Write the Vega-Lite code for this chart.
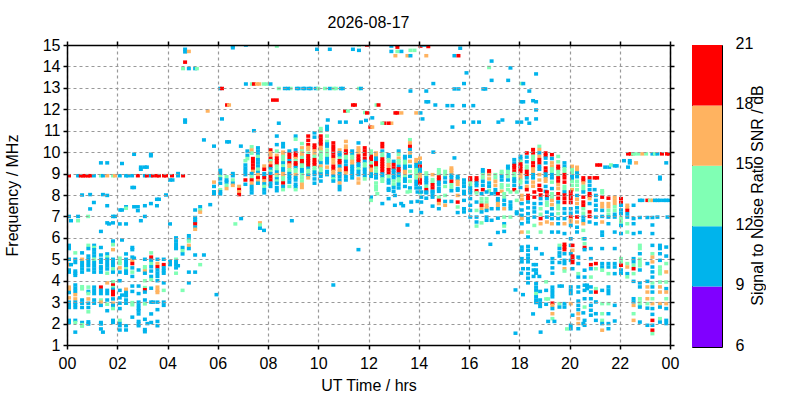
{
"$schema":"https://vega.github.io/schema/vega-lite/v6.json",
"background":"white",
"padding":{"left":4,"top":15,"right":0,"bottom":0},
"config":{"font":"Liberation Sans","view":{"stroke":null},"axis":{"labelFont":"Liberation Sans","titleFont":"Liberation Sans","labelFontSize":16,"titleFontSize":16,"labelColor":"black","titleColor":"black","titleFontWeight":"normal","tickColor":"black","domainColor":"black"},"title":{"font":"Liberation Sans","fontSize":16,"fontWeight":"normal","color":"black"}},
"datasets":{
"frame":[{"t":0,"f":1}],
"bar":[{"lo":6,"hi":9},{"lo":9,"hi":12},{"lo":12,"hi":15},{"lo":15,"hi":18},{"lo":18,"hi":21}],
"obs":[
{"t":0.08,"f":8.9,"s":19},{"t":0.44,"f":8.9,"s":10},{"t":0.55,"f":8.9,"s":19},{"t":0.64,"f":8.9,"s":19},{"t":0.73,"f":8.9,"s":19},{"t":0.84,"f":8.9,"s":19},{"t":0.92,"f":8.9,"s":19},{"t":1.07,"f":8.9,"s":10},{"t":1.35,"f":8.9,"s":13},{"t":1.43,"f":8.9,"s":10},{"t":1.6,"f":8.9,"s":16},{"t":1.83,"f":8.9,"s":13},{"t":1.91,"f":8.9,"s":16},{"t":2.1,"f":8.9,"s":10},{"t":2.35,"f":8.9,"s":10},{"t":2.43,"f":8.9,"s":10},{"t":2.59,"f":8.9,"s":10},{"t":2.82,"f":8.9,"s":19},{"t":3.1,"f":8.9,"s":10},{"t":3.18,"f":8.9,"s":19},{"t":3.34,"f":8.9,"s":10},{"t":3.42,"f":8.9,"s":19},{"t":3.58,"f":8.9,"s":19},{"t":3.66,"f":8.9,"s":19},{"t":3.86,"f":8.9,"s":19},{"t":3.94,"f":8.9,"s":19},{"t":4.18,"f":8.9,"s":19},{"t":4.42,"f":8.9,"s":10},{"t":4.42,"f":9.0,"s":10},{"t":4.62,"f":8.9,"s":19},{"t":4.1,"f":8.7,"s":10},{"t":4.2,"f":8.7,"s":10},
{"t":1.35,"f":9.5,"s":10},{"t":1.6,"f":9.5,"s":10},{"t":2.19,"f":9.47,"s":10},{"t":2.67,"f":9.9,"s":10},{"t":3.34,"f":9.9,"s":10},{"t":3.34,"f":9.83,"s":10},{"t":2.94,"f":9.3,"s":10},{"t":2.94,"f":9.2,"s":10},{"t":3.1,"f":9.3,"s":10},{"t":3.18,"f":9.3,"s":10},{"t":2.6,"f":8.35,"s":10},{"t":2.67,"f":8.35,"s":10},
{"t":0.6,"f":8.0,"s":10},{"t":0.92,"f":8.02,"s":10},{"t":1.43,"f":8.02,"s":10},{"t":1.6,"f":7.98,"s":10},{"t":1.07,"f":7.65,"s":10},{"t":0.92,"f":7.35,"s":10},{"t":1.6,"f":7.5,"s":10},{"t":2.12,"f":7.3,"s":10},{"t":2.19,"f":7.3,"s":10},{"t":2.35,"f":7.45,"s":10},{"t":2.35,"f":7.38,"s":13},{"t":2.67,"f":7.45,"s":10},{"t":2.82,"f":7.45,"s":10},{"t":2.82,"f":7.27,"s":10},{"t":3.1,"f":7.5,"s":10},{"t":3.34,"f":7.6,"s":10},{"t":3.58,"f":7.5,"s":10},{"t":3.58,"f":7.8,"s":10},{"t":3.66,"f":7.8,"s":10},{"t":3.94,"f":8.0,"s":10},
{"t":0.08,"f":7.0,"s":10},{"t":0.44,"f":7.0,"s":10},{"t":0.84,"f":7.0,"s":13},{"t":1.83,"f":7.0,"s":10},{"t":1.91,"f":7.0,"s":10},{"t":3.1,"f":7.0,"s":10},{"t":2.94,"f":6.8,"s":10},{"t":0.16,"f":6.8,"s":10},{"t":0.44,"f":6.8,"s":13},{"t":1.6,"f":6.7,"s":10},{"t":1.67,"f":6.65,"s":10},{"t":1.83,"f":6.7,"s":10},{"t":2.1,"f":6.65,"s":10},{"t":2.35,"f":6.65,"s":10},{"t":1.35,"f":6.3,"s":10},{"t":2.19,"f":5.9,"s":10},
{"t":0.08,"f":5.65,"s":10},{"t":0.08,"f":5.5,"s":10},{"t":0.08,"f":5.0,"s":10},{"t":0.08,"f":4.75,"s":16},{"t":0.16,"f":4.75,"s":10},{"t":0.08,"f":4.5,"s":10},{"t":0.08,"f":4.4,"s":10},{"t":0.08,"f":3.7,"s":16},{"t":0.08,"f":3.6,"s":16},{"t":0.08,"f":3.45,"s":10},{"t":0.08,"f":3.2,"s":16},{"t":0.08,"f":3.0,"s":10},{"t":0.08,"f":2.9,"s":10},{"t":0.08,"f":2.75,"s":10},{"t":0.08,"f":2.15,"s":10},{"t":0.08,"f":2.05,"s":10},
{"t":0.33,"f":5.3,"s":13},{"t":0.33,"f":5.0,"s":10},{"t":0.33,"f":4.85,"s":10},{"t":0.33,"f":4.45,"s":10},{"t":0.33,"f":4.35,"s":10},{"t":0.33,"f":4.25,"s":10},{"t":0.33,"f":3.8,"s":10},{"t":0.33,"f":3.65,"s":10},{"t":0.33,"f":3.5,"s":10},{"t":0.33,"f":3.35,"s":16},{"t":0.33,"f":3.15,"s":16},{"t":0.33,"f":3.0,"s":10},{"t":0.33,"f":2.88,"s":10},{"t":0.33,"f":2.75,"s":10},{"t":0.33,"f":2.15,"s":10},{"t":0.33,"f":2.05,"s":13},{"t":0.33,"f":1.6,"s":10},
{"t":0.6,"f":5.3,"s":10},{"t":0.6,"f":5.0,"s":16},{"t":0.6,"f":4.85,"s":10},{"t":0.6,"f":4.7,"s":10},{"t":0.6,"f":4.55,"s":10},{"t":0.6,"f":4.4,"s":10},{"t":0.6,"f":3.72,"s":13},{"t":0.6,"f":3.62,"s":13},{"t":0.6,"f":3.1,"s":10},{"t":0.6,"f":2.95,"s":10},{"t":0.6,"f":2.75,"s":10},{"t":0.6,"f":2.05,"s":10},{"t":0.6,"f":1.95,"s":13},{"t":0.6,"f":1.88,"s":13},
{"t":0.85,"f":5.65,"s":13},{"t":0.85,"f":5.5,"s":10},{"t":0.85,"f":5.15,"s":10},{"t":0.85,"f":5.0,"s":10},{"t":0.85,"f":4.85,"s":10},{"t":0.85,"f":4.7,"s":10},{"t":0.85,"f":4.5,"s":10},{"t":0.85,"f":3.7,"s":13},{"t":0.85,"f":3.5,"s":10},{"t":0.85,"f":3.4,"s":13},{"t":0.85,"f":3.15,"s":16},{"t":0.85,"f":2.95,"s":10},{"t":0.85,"f":2.75,"s":10},{"t":0.85,"f":2.55,"s":13},{"t":0.85,"f":2.08,"s":10},{"t":0.85,"f":1.98,"s":10},
{"t":1.08,"f":5.65,"s":10},{"t":1.08,"f":5.55,"s":13},{"t":1.08,"f":5.45,"s":10},{"t":1.08,"f":5.3,"s":10},{"t":1.08,"f":5.15,"s":10},{"t":1.08,"f":5.0,"s":13},{"t":1.08,"f":4.85,"s":10},{"t":1.08,"f":4.7,"s":10},{"t":1.08,"f":4.55,"s":10},{"t":1.08,"f":4.4,"s":10},{"t":1.08,"f":3.7,"s":10},{"t":1.08,"f":3.55,"s":10},{"t":1.08,"f":3.4,"s":10},{"t":1.08,"f":3.1,"s":10},{"t":1.08,"f":2.95,"s":10},
{"t":1.35,"f":5.55,"s":10},{"t":1.35,"f":5.2,"s":10},{"t":1.35,"f":5.0,"s":10},{"t":1.35,"f":4.85,"s":10},{"t":1.35,"f":4.65,"s":10},{"t":1.35,"f":4.55,"s":10},{"t":1.35,"f":4.4,"s":10},{"t":1.35,"f":3.7,"s":19},{"t":1.35,"f":3.55,"s":10},{"t":1.35,"f":3.4,"s":10},{"t":1.35,"f":3.1,"s":13},{"t":1.35,"f":3.0,"s":16},{"t":1.35,"f":2.85,"s":10},{"t":1.35,"f":2.05,"s":10},{"t":1.35,"f":1.98,"s":10},{"t":1.35,"f":1.75,"s":10},{"t":1.43,"f":1.6,"s":10},
{"t":1.6,"f":5.25,"s":10},{"t":1.6,"f":5.1,"s":13},{"t":1.6,"f":5.0,"s":10},{"t":1.6,"f":4.85,"s":10},{"t":1.6,"f":4.7,"s":10},{"t":1.6,"f":4.55,"s":10},{"t":1.6,"f":4.35,"s":13},{"t":1.6,"f":3.9,"s":16},{"t":1.6,"f":3.55,"s":10},{"t":1.6,"f":3.4,"s":10},{"t":1.6,"f":3.1,"s":10},{"t":1.6,"f":2.9,"s":13},{"t":1.6,"f":2.6,"s":10},
{"t":1.83,"f":5.85,"s":10},{"t":1.83,"f":5.68,"s":13},{"t":1.83,"f":5.45,"s":16},{"t":1.83,"f":5.0,"s":10},{"t":1.83,"f":4.85,"s":10},{"t":1.83,"f":4.7,"s":10},{"t":1.83,"f":4.55,"s":13},{"t":1.83,"f":4.4,"s":10},{"t":1.83,"f":3.95,"s":13},{"t":1.83,"f":3.8,"s":19},{"t":1.83,"f":3.68,"s":13},{"t":1.83,"f":3.6,"s":10},{"t":1.83,"f":3.5,"s":19},{"t":1.83,"f":3.35,"s":19},{"t":1.83,"f":3.15,"s":10},{"t":1.83,"f":2.95,"s":16},{"t":1.83,"f":2.85,"s":10},{"t":1.83,"f":2.7,"s":13},{"t":1.83,"f":2.15,"s":10},{"t":1.83,"f":2.05,"s":10},
{"t":2.1,"f":5.05,"s":13},{"t":2.1,"f":4.9,"s":13},{"t":2.1,"f":4.8,"s":13},{"t":2.1,"f":4.6,"s":16},{"t":2.1,"f":4.4,"s":10},{"t":2.1,"f":4.0,"s":10},{"t":2.1,"f":3.55,"s":10},{"t":2.1,"f":3.2,"s":10},{"t":2.19,"f":3.33,"s":10},{"t":2.1,"f":2.95,"s":10},{"t":2.1,"f":2.7,"s":10},{"t":2.1,"f":2.15,"s":13},{"t":2.1,"f":2.0,"s":10},{"t":2.1,"f":1.9,"s":10},{"t":2.1,"f":1.7,"s":10},
{"t":2.35,"f":5.25,"s":10},{"t":2.35,"f":5.0,"s":10},{"t":2.35,"f":4.85,"s":10},{"t":2.35,"f":4.7,"s":10},{"t":2.35,"f":4.55,"s":13},{"t":2.35,"f":4.45,"s":10},{"t":2.35,"f":4.35,"s":10},{"t":2.35,"f":3.6,"s":16},{"t":2.35,"f":3.45,"s":10},{"t":2.35,"f":3.3,"s":10},{"t":2.35,"f":3.1,"s":10},{"t":2.35,"f":2.95,"s":10},{"t":2.35,"f":1.9,"s":10},{"t":2.35,"f":1.7,"s":10},
{"t":2.6,"f":5.55,"s":10},{"t":2.6,"f":5.45,"s":10},{"t":2.6,"f":5.1,"s":10},{"t":2.6,"f":4.95,"s":16},{"t":2.6,"f":4.8,"s":19},{"t":2.6,"f":4.6,"s":10},{"t":2.6,"f":4.4,"s":13},{"t":2.6,"f":4.2,"s":10},{"t":2.6,"f":3.75,"s":10},{"t":2.6,"f":3.5,"s":10},{"t":2.6,"f":2.98,"s":13},{"t":2.6,"f":2.88,"s":13},{"t":2.6,"f":2.3,"s":10},{"t":2.67,"f":5.05,"s":10},
{"t":2.85,"f":4.5,"s":10},{"t":2.85,"f":3.75,"s":10},{"t":2.85,"f":3.4,"s":10},{"t":2.85,"f":3.0,"s":10},{"t":2.85,"f":2.85,"s":10},{"t":2.85,"f":2.7,"s":10},{"t":2.85,"f":2.6,"s":10},{"t":2.85,"f":2.45,"s":10},{"t":2.85,"f":2.1,"s":10},{"t":2.85,"f":1.98,"s":10},{"t":2.85,"f":1.9,"s":10},
{"t":3.1,"f":5.0,"s":10},{"t":3.1,"f":4.65,"s":13},{"t":3.1,"f":4.55,"s":13},{"t":3.1,"f":4.45,"s":16},{"t":3.1,"f":4.35,"s":10},{"t":3.1,"f":4.0,"s":13},{"t":3.1,"f":3.68,"s":13},{"t":3.1,"f":3.58,"s":19},{"t":3.1,"f":3.47,"s":10},{"t":3.1,"f":3.1,"s":10},{"t":3.1,"f":2.92,"s":13},{"t":3.1,"f":2.2,"s":10},{"t":3.1,"f":1.72,"s":10},{"t":3.1,"f":1.62,"s":10},{"t":3.2,"f":2.0,"s":10},
{"t":3.35,"f":5.3,"s":13},{"t":3.35,"f":5.1,"s":19},{"t":3.35,"f":4.95,"s":10},{"t":3.35,"f":4.8,"s":13},{"t":3.35,"f":4.65,"s":10},{"t":3.35,"f":4.45,"s":10},{"t":3.35,"f":4.2,"s":10},{"t":3.35,"f":4.05,"s":13},{"t":3.35,"f":3.65,"s":10},{"t":3.35,"f":3.0,"s":10},{"t":3.35,"f":2.45,"s":10},{"t":3.35,"f":2.05,"s":10},{"t":3.43,"f":3.0,"s":10},
{"t":3.6,"f":5.0,"s":10},{"t":3.6,"f":4.8,"s":16},{"t":3.6,"f":4.65,"s":19},{"t":3.6,"f":4.5,"s":10},{"t":3.6,"f":4.35,"s":10},{"t":3.6,"f":4.2,"s":10},{"t":3.6,"f":4.0,"s":10},{"t":3.6,"f":3.7,"s":16},{"t":3.6,"f":3.55,"s":16},{"t":3.6,"f":3.45,"s":16},{"t":3.6,"f":3.0,"s":10},{"t":3.6,"f":2.65,"s":10},{"t":3.6,"f":2.1,"s":10},{"t":3.6,"f":1.9,"s":10},
{"t":3.85,"f":5.0,"s":10},{"t":3.85,"f":4.75,"s":19},{"t":3.85,"f":4.6,"s":10},{"t":3.85,"f":4.47,"s":10},{"t":3.85,"f":4.35,"s":10},{"t":3.85,"f":3.9,"s":10},{"t":3.85,"f":3.55,"s":13},{"t":3.85,"f":3.0,"s":10},{"t":3.85,"f":2.85,"s":10},
{"t":4.1,"f":4.9,"s":10},{"t":4.1,"f":4.75,"s":10},{"t":4.34,"f":6.0,"s":10},{"t":4.34,"f":5.85,"s":10},{"t":4.34,"f":5.7,"s":10},{"t":4.34,"f":5.55,"s":10},{"t":4.34,"f":5.5,"s":10},{"t":4.34,"f":5.0,"s":13},{"t":4.34,"f":4.9,"s":10},{"t":4.34,"f":4.75,"s":10},{"t":4.34,"f":4.6,"s":10},{"t":4.34,"f":4.35,"s":13},{"t":4.42,"f":4.7,"s":10},
{"t":4.6,"f":5.55,"s":10},{"t":4.6,"f":5.4,"s":13},{"t":4.6,"f":5.25,"s":10},{"t":4.6,"f":3.55,"s":13},{"t":4.85,"f":6.1,"s":10},{"t":4.85,"f":5.95,"s":10},{"t":4.85,"f":5.85,"s":13},{"t":4.85,"f":5.65,"s":16},{"t":4.85,"f":5.5,"s":10},{"t":4.85,"f":4.4,"s":10},{"t":4.85,"f":3.9,"s":10},
{"t":5.1,"f":7.3,"s":10},{"t":5.1,"f":6.95,"s":10},{"t":5.1,"f":6.85,"s":10},{"t":5.1,"f":6.75,"s":10},{"t":5.1,"f":6.65,"s":19},{"t":5.1,"f":6.5,"s":10},{"t":5.1,"f":6.4,"s":16},{"t":5.1,"f":5.2,"s":10},{"t":5.1,"f":4.4,"s":10},{"t":5.3,"f":7.45,"s":10},{"t":5.3,"f":7.3,"s":13},{"t":5.3,"f":7.2,"s":16},{"t":5.3,"f":4.75,"s":13},{"t":5.45,"f":5.2,"s":10},{"t":5.7,"f":7.55,"s":10},{"t":4.1,"f":6.65,"s":10},{"t":5.95,"f":3.35,"s":10},{"t":6.93,"f":6.9,"s":10},{"t":6.7,"f":6.65,"s":13},{"t":7.68,"f":6.7,"s":16},{"t":7.68,"f":6.6,"s":13},{"t":7.68,"f":6.45,"s":10},{"t":7.84,"f":6.35,"s":10},{"t":8.95,"f":6.8,"s":10},{"t":10.6,"f":3.8,"s":10},{"t":11.6,"f":5.45,"s":10},
{"t":4.7,"f":14.8,"s":10},{"t":4.7,"f":14.68,"s":10},{"t":4.85,"f":14.7,"s":16},{"t":4.7,"f":14.2,"s":19},{"t":4.62,"f":13.9,"s":13},{"t":4.85,"f":13.9,"s":10},{"t":5.1,"f":13.9,"s":10},{"t":5.17,"f":13.9,"s":13},{"t":6.6,"f":14.95,"s":10},{"t":6.6,"f":14.87,"s":10},{"t":7.12,"f":15,"s":10},{"t":8.35,"f":14.95,"s":13},{"t":9.95,"f":14.8,"s":10},{"t":10.46,"f":14.8,"s":10},{"t":11.38,"f":14.8,"s":10},{"t":11.62,"f":14.75,"s":10},{"t":11.62,"f":15,"s":13},{"t":11.94,"f":15,"s":19},
{"t":7.12,"f":13.18,"s":10},{"t":7.36,"f":13.18,"s":13},{"t":7.44,"f":13.18,"s":19},{"t":7.56,"f":13.18,"s":16},{"t":7.65,"f":13.18,"s":16},{"t":7.83,"f":13.18,"s":13},{"t":7.95,"f":13.18,"s":13},{"t":8.1,"f":13.18,"s":10},
{"t":6.09,"f":12.97,"s":10},{"t":6.17,"f":12.97,"s":19},{"t":8.43,"f":12.97,"s":13},{"t":8.67,"f":12.97,"s":10},{"t":8.9,"f":12.97,"s":13},{"t":8.8,"f":12.97,"s":10},{"t":9.15,"f":12.97,"s":10},{"t":9.22,"f":12.97,"s":10},{"t":9.4,"f":12.97,"s":10},{"t":9.46,"f":12.97,"s":10},{"t":9.63,"f":12.97,"s":10},{"t":9.7,"f":12.97,"s":10},{"t":9.9,"f":12.97,"s":10},{"t":10,"f":12.97,"s":13},{"t":10.27,"f":12.97,"s":13},{"t":10.46,"f":12.97,"s":10},{"t":10.62,"f":12.97,"s":13},{"t":10.7,"f":12.97,"s":13},{"t":10.9,"f":12.97,"s":10},{"t":10.98,"f":12.97,"s":10},{"t":11.62,"f":12.97,"s":13},{"t":11.7,"f":12.97,"s":10},
{"t":8.2,"f":12.43,"s":19},{"t":8.35,"f":12.43,"s":19},{"t":6.37,"f":12.2,"s":19},{"t":6.45,"f":12.2,"s":16},{"t":11.38,"f":12.2,"s":19},{"t":11.46,"f":12.2,"s":19},{"t":5.6,"f":11.92,"s":16},{"t":11.07,"f":11.92,"s":19},{"t":11.18,"f":11.92,"s":13},{"t":11.86,"f":11.85,"s":13},{"t":11.94,"f":11.83,"s":19},{"t":6.17,"f":11.55,"s":10},{"t":4.7,"f":11.5,"s":10},{"t":4.7,"f":11.4,"s":10},{"t":10.38,"f":11.5,"s":10},{"t":8.43,"f":11.35,"s":10},{"t":10.86,"f":11.4,"s":10},{"t":11.1,"f":11.4,"s":10},{"t":11.7,"f":11.4,"s":10},{"t":11.9,"f":11.48,"s":10},{"t":7.44,"f":11,"s":10},{"t":5.45,"f":10.57,"s":10},{"t":6.37,"f":10.48,"s":10},{"t":6.45,"f":10.48,"s":10},{"t":5.85,"f":10.28,"s":10},{"t":6.92,"f":10.28,"s":10},
{"t":12.91,"f":14.95,"s":10},{"t":12.91,"f":14.7,"s":10},{"t":13.15,"f":15,"s":10},{"t":13.15,"f":14.9,"s":19},{"t":13.15,"f":14.7,"s":13},{"t":13.31,"f":14.7,"s":10},{"t":13.67,"f":14.75,"s":13},{"t":13.83,"f":14.75,"s":13},{"t":14.07,"f":14.95,"s":19},{"t":14.15,"f":15,"s":10},{"t":14.3,"f":15,"s":10},{"t":14.38,"f":14.93,"s":19},{"t":15.65,"f":14.85,"s":10},{"t":13.07,"f":14.5,"s":16},{"t":13.55,"f":14.5,"s":16},{"t":13.67,"f":14.5,"s":10},{"t":14.3,"f":14.5,"s":16},{"t":15.42,"f":14.5,"s":10},{"t":15.58,"f":14.5,"s":19},{"t":16.9,"f":14.25,"s":10},{"t":16.8,"f":13.95,"s":13},{"t":17.65,"f":13.93,"s":10},{"t":15.9,"f":13.7,"s":10},{"t":18.67,"f":13.65,"s":10},{"t":16.9,"f":13.35,"s":10},{"t":17.56,"f":13.35,"s":10},{"t":14.58,"f":13.2,"s":10},{"t":15.8,"f":13.2,"s":10},{"t":18.08,"f":13.2,"s":13},{"t":18.16,"f":13.2,"s":10},{"t":13.67,"f":12.85,"s":10},{"t":14.3,"f":12.85,"s":10},{"t":15.42,"f":12.95,"s":10},{"t":15.58,"f":12.95,"s":10},{"t":16.57,"f":12.95,"s":10},{"t":16.65,"f":12.95,"s":10},{"t":18.4,"f":12.85,"s":10},{"t":14.3,"f":12.35,"s":10},{"t":14.38,"f":12.35,"s":10},{"t":14.66,"f":12.2,"s":10},{"t":15.14,"f":12.17,"s":10},{"t":15.34,"f":12.17,"s":10},{"t":15.8,"f":12.17,"s":10},{"t":16.17,"f":12.17,"s":10},{"t":18.08,"f":12.35,"s":10},{"t":18.16,"f":12.35,"s":10},{"t":18.55,"f":12.4,"s":10},{"t":18.67,"f":12.35,"s":10},{"t":18.67,"f":11.97,"s":10},{"t":12.32,"f":12.2,"s":13},{"t":12.4,"f":12.2,"s":19},{"t":13.07,"f":11.83,"s":19},{"t":13.15,"f":11.83,"s":19},{"t":13.31,"f":11.83,"s":16},{"t":13.9,"f":11.83,"s":16},{"t":14.07,"f":11.83,"s":10},{"t":12.15,"f":11.6,"s":10},{"t":14.15,"f":11.55,"s":10},{"t":15.8,"f":11.4,"s":10},{"t":16.17,"f":11.4,"s":10},{"t":16.4,"f":11.4,"s":10},{"t":17.17,"f":11.4,"s":10},{"t":17.33,"f":11.5,"s":10},{"t":17.92,"f":11.4,"s":10},{"t":18.08,"f":11.4,"s":10},{"t":18.3,"f":11.55,"s":10},{"t":18.4,"f":11.35,"s":10},{"t":18.67,"f":11.55,"s":10},{"t":15.34,"f":11.17,"s":10},{"t":12.07,"f":11.17,"s":19},{"t":12.15,"f":11.17,"s":16},{"t":12.63,"f":11.35,"s":19},{"t":12.55,"f":11.35,"s":13},{"t":12.91,"f":11.35,"s":16},{"t":12.8,"f":11.35,"s":19},{"t":14.58,"f":10,"s":10},{"t":15.42,"f":9.73,"s":10},
{"t":22.33,"f":9.92,"s":19},{"t":22.45,"f":9.92,"s":19},{"t":22.53,"f":9.92,"s":13},{"t":22.6,"f":9.92,"s":13},{"t":22.75,"f":9.92,"s":13},{"t":22.9,"f":9.92,"s":16},{"t":23.05,"f":9.92,"s":13},{"t":23.3,"f":9.92,"s":10},{"t":23.4,"f":9.92,"s":13},{"t":23.5,"f":9.92,"s":10},{"t":23.68,"f":9.92,"s":19},{"t":23.88,"f":9.92,"s":19},{"t":23.96,"f":9.92,"s":19},{"t":22.17,"f":9.6,"s":10},{"t":22.4,"f":9.6,"s":10},{"t":22.4,"f":9.5,"s":10},{"t":22.65,"f":9.5,"s":16},{"t":22.33,"f":9.3,"s":10},{"t":23.85,"f":9.5,"s":10},{"t":23.6,"f":8.83,"s":10},{"t":23.6,"f":8.75,"s":10},{"t":21.1,"f":9.4,"s":19},{"t":21.22,"f":9.4,"s":19},{"t":21.42,"f":9.3,"s":10},{"t":21.58,"f":9.3,"s":10},{"t":21.65,"f":9.4,"s":13},{"t":21.8,"f":9.36,"s":10},{"t":21.88,"f":9.36,"s":10},
{"t":5.85,"f":8.6,"s":16},{"t":5.85,"f":8.4,"s":10},{"t":5.85,"f":8.15,"s":10},{"t":5.85,"f":8.05,"s":10},
{"t":6.1,"f":9.15,"s":10},{"t":6.1,"f":9.0,"s":10},{"t":6.1,"f":8.85,"s":13},{"t":6.1,"f":8.75,"s":10},{"t":6.1,"f":8.55,"s":10},{"t":6.1,"f":8.25,"s":13},{"t":6.1,"f":8.15,"s":10},{"t":6.1,"f":8.05,"s":10},
{"t":6.35,"f":8.85,"s":13},{"t":6.35,"f":8.7,"s":10},{"t":6.35,"f":8.6,"s":10},{"t":6.35,"f":8.45,"s":13},{"t":6.35,"f":8.3,"s":16},
{"t":6.6,"f":9.0,"s":10},{"t":6.6,"f":8.9,"s":10},{"t":6.6,"f":8.7,"s":13},{"t":6.6,"f":8.55,"s":10},{"t":6.6,"f":8.45,"s":16},
{"t":6.85,"f":8.4,"s":16},{"t":6.85,"f":8.25,"s":19},{"t":6.85,"f":8.15,"s":16},{"t":6.85,"f":8.02,"s":19},
{"t":7.1,"f":9.25,"s":10},{"t":7.1,"f":9.1,"s":10},{"t":7.1,"f":8.7,"s":19},{"t":7.1,"f":8.5,"s":10},{"t":7.1,"f":9.6,"s":13},{"t":7.1,"f":9.4,"s":10},{"t":7.1,"f":8.95,"s":10},{"t":7.18,"f":10.05,"s":10},{"t":7.18,"f":9.85,"s":10},{"t":7.18,"f":9.7,"s":13},
{"t":7.35,"f":10.25,"s":13},{"t":7.35,"f":10.1,"s":16},{"t":7.35,"f":9.95,"s":13},{"t":7.4,"f":9.7,"s":19},{"t":7.4,"f":9.55,"s":19},{"t":7.4,"f":9.4,"s":19},{"t":7.4,"f":9.25,"s":19},{"t":7.4,"f":9.1,"s":16},{"t":7.35,"f":9.0,"s":10},{"t":7.35,"f":8.85,"s":13},{"t":7.35,"f":8.7,"s":19},{"t":7.35,"f":8.55,"s":16},{"t":7.35,"f":8.4,"s":10},{"t":7.35,"f":8.25,"s":10},{"t":7.35,"f":8.1,"s":10},
{"t":7.6,"f":10.2,"s":10},{"t":7.6,"f":10.05,"s":10},{"t":7.6,"f":9.9,"s":10},{"t":7.6,"f":9.8,"s":13},{"t":7.6,"f":9.65,"s":10},{"t":7.6,"f":9.5,"s":10},{"t":7.6,"f":9.35,"s":10},{"t":7.6,"f":9.2,"s":13},{"t":7.6,"f":9.05,"s":10},{"t":7.6,"f":8.95,"s":16},{"t":7.6,"f":8.8,"s":19},{"t":7.6,"f":8.67,"s":16},{"t":7.6,"f":8.55,"s":10},
{"t":7.85,"f":9.35,"s":16},{"t":7.85,"f":9.2,"s":19},{"t":7.85,"f":9.0,"s":10},{"t":7.85,"f":8.92,"s":10},{"t":7.85,"f":8.8,"s":19},{"t":7.85,"f":8.65,"s":16},{"t":7.85,"f":8.52,"s":10},{"t":7.85,"f":8.4,"s":13},{"t":7.85,"f":8.25,"s":10},{"t":7.85,"f":8.1,"s":10},
{"t":8.1,"f":10.1,"s":19},{"t":8.1,"f":9.97,"s":16},{"t":8.1,"f":9.85,"s":16},{"t":8.1,"f":9.7,"s":19},{"t":8.1,"f":9.6,"s":13},{"t":8.1,"f":9.5,"s":16},{"t":8.1,"f":9.35,"s":19},{"t":8.1,"f":9.22,"s":10},{"t":8.1,"f":9.1,"s":13},{"t":8.1,"f":9.0,"s":10},{"t":8.1,"f":8.85,"s":19},{"t":8.1,"f":8.7,"s":19},{"t":8.1,"f":8.55,"s":10},{"t":8.1,"f":8.4,"s":10},
{"t":8.35,"f":10.75,"s":10},{"t":8.35,"f":10.35,"s":10},{"t":8.35,"f":10.05,"s":13},{"t":8.35,"f":9.85,"s":16},{"t":8.35,"f":9.72,"s":19},{"t":8.35,"f":9.6,"s":19},{"t":8.35,"f":9.47,"s":19},{"t":8.35,"f":9.35,"s":13},{"t":8.35,"f":9.2,"s":13},{"t":8.35,"f":9.07,"s":10},{"t":8.35,"f":8.95,"s":16},{"t":8.35,"f":8.85,"s":13},{"t":8.35,"f":8.75,"s":10},{"t":8.35,"f":8.65,"s":13},{"t":8.35,"f":8.55,"s":10},{"t":8.35,"f":8.35,"s":10},{"t":8.35,"f":8.2,"s":10},
{"t":8.6,"f":10.4,"s":10},{"t":8.6,"f":10.25,"s":10},{"t":8.6,"f":10.0,"s":16},{"t":8.6,"f":9.9,"s":16},{"t":8.6,"f":9.8,"s":13},{"t":8.6,"f":9.65,"s":13},{"t":8.6,"f":9.5,"s":10},{"t":8.6,"f":9.35,"s":13},{"t":8.6,"f":9.22,"s":10},{"t":8.6,"f":9.1,"s":10},{"t":8.6,"f":9.0,"s":16},{"t":8.6,"f":8.9,"s":16},{"t":8.6,"f":8.8,"s":13},{"t":8.6,"f":8.7,"s":13},{"t":8.6,"f":8.56,"s":19},{"t":8.6,"f":8.4,"s":10},{"t":8.6,"f":8.25,"s":13},
{"t":8.85,"f":10.05,"s":10},{"t":8.85,"f":9.9,"s":19},{"t":8.85,"f":9.75,"s":19},{"t":8.85,"f":9.6,"s":10},{"t":8.85,"f":9.5,"s":19},{"t":8.85,"f":9.4,"s":16},{"t":8.85,"f":9.3,"s":16},{"t":8.85,"f":9.18,"s":13},{"t":8.85,"f":9.08,"s":13},{"t":8.85,"f":9.0,"s":10},{"t":8.85,"f":8.87,"s":10},{"t":8.85,"f":8.75,"s":10},{"t":8.85,"f":8.6,"s":10},{"t":8.85,"f":8.4,"s":13},
{"t":9.1,"f":10.75,"s":10},{"t":9.1,"f":10.6,"s":13},{"t":9.1,"f":10.1,"s":10},{"t":9.1,"f":9.95,"s":19},{"t":9.1,"f":9.82,"s":19},{"t":9.1,"f":9.7,"s":16},{"t":9.1,"f":9.6,"s":13},{"t":9.1,"f":9.5,"s":19},{"t":9.1,"f":9.4,"s":19},{"t":9.1,"f":9.28,"s":10},{"t":9.1,"f":9.18,"s":13},{"t":9.1,"f":9.07,"s":13},{"t":9.1,"f":8.95,"s":16},{"t":9.1,"f":8.82,"s":10},{"t":9.1,"f":8.7,"s":10},{"t":9.1,"f":8.5,"s":10},{"t":9.1,"f":8.38,"s":10},{"t":9.1,"f":8.25,"s":13},
{"t":9.35,"f":10.4,"s":13},{"t":9.35,"f":10.2,"s":16},{"t":9.35,"f":10.05,"s":13},{"t":9.35,"f":9.95,"s":16},{"t":9.35,"f":9.85,"s":16},{"t":9.35,"f":9.75,"s":13},{"t":9.35,"f":9.6,"s":19},{"t":9.35,"f":9.5,"s":19},{"t":9.35,"f":9.4,"s":13},{"t":9.35,"f":9.28,"s":13},{"t":9.35,"f":9.18,"s":10},{"t":9.35,"f":9.07,"s":10},{"t":9.35,"f":8.95,"s":13},{"t":9.35,"f":8.8,"s":13},{"t":9.35,"f":8.65,"s":13},{"t":9.35,"f":8.5,"s":16},{"t":9.35,"f":8.35,"s":16},
{"t":9.6,"f":10.75,"s":19},{"t":9.6,"f":10.55,"s":19},{"t":9.6,"f":10.35,"s":19},{"t":9.6,"f":10.22,"s":16},{"t":9.6,"f":10.12,"s":16},{"t":9.6,"f":9.95,"s":13},{"t":9.6,"f":9.83,"s":19},{"t":9.6,"f":9.7,"s":19},{"t":9.6,"f":9.6,"s":19},{"t":9.6,"f":9.5,"s":19},{"t":9.6,"f":9.38,"s":19},{"t":9.6,"f":9.25,"s":10},{"t":9.6,"f":9.14,"s":13},{"t":9.6,"f":9.03,"s":13},{"t":9.6,"f":8.92,"s":10},{"t":9.6,"f":8.8,"s":16},
{"t":9.85,"f":10.9,"s":10},{"t":9.85,"f":10.7,"s":10},{"t":9.85,"f":10.33,"s":19},{"t":9.85,"f":10.2,"s":19},{"t":9.85,"f":10.05,"s":16},{"t":9.85,"f":9.92,"s":16},{"t":9.85,"f":9.8,"s":13},{"t":9.85,"f":9.65,"s":19},{"t":9.85,"f":9.52,"s":19},{"t":9.85,"f":9.4,"s":19},{"t":9.85,"f":9.28,"s":13},{"t":9.85,"f":9.18,"s":13},{"t":9.85,"f":9.07,"s":10},{"t":9.85,"f":8.95,"s":10},{"t":9.85,"f":8.75,"s":10},{"t":9.85,"f":8.55,"s":10},
{"t":10.1,"f":11.1,"s":13},{"t":10.1,"f":10.98,"s":13},{"t":10.1,"f":10.75,"s":19},{"t":10.1,"f":10.6,"s":19},{"t":10.1,"f":10.47,"s":19},{"t":10.1,"f":10.35,"s":19},{"t":10.1,"f":10.22,"s":16},{"t":10.1,"f":10.12,"s":16},{"t":10.1,"f":10.0,"s":13},{"t":10.1,"f":9.9,"s":13},{"t":10.1,"f":9.77,"s":13},{"t":10.1,"f":9.65,"s":13},{"t":10.1,"f":9.5,"s":10},{"t":10.1,"f":9.35,"s":16},{"t":10.1,"f":9.22,"s":13},{"t":10.1,"f":9.1,"s":13},{"t":10.1,"f":8.98,"s":10},{"t":10.1,"f":8.87,"s":10},{"t":10.1,"f":8.65,"s":10},
{"t":10.35,"f":11.2,"s":10},{"t":10.35,"f":11.05,"s":10},{"t":10.35,"f":10.75,"s":13},{"t":10.35,"f":10.5,"s":13},{"t":10.35,"f":10.38,"s":10},{"t":10.35,"f":10.28,"s":10},{"t":10.35,"f":10.1,"s":13},{"t":10.35,"f":9.96,"s":13},{"t":10.35,"f":9.85,"s":13},{"t":10.35,"f":9.7,"s":10},{"t":10.35,"f":9.6,"s":10},{"t":10.35,"f":9.5,"s":10},{"t":10.35,"f":9.3,"s":16},{"t":10.35,"f":9.1,"s":10},{"t":10.35,"f":8.95,"s":10},
{"t":10.6,"f":10.43,"s":19},{"t":10.6,"f":10.27,"s":19},{"t":10.6,"f":10.12,"s":19},{"t":10.6,"f":9.96,"s":19},{"t":10.6,"f":9.8,"s":19},{"t":10.6,"f":9.65,"s":16},{"t":10.6,"f":9.5,"s":16},{"t":10.6,"f":9.34,"s":19},{"t":10.6,"f":9.2,"s":19},{"t":10.6,"f":9.1,"s":16},{"t":10.6,"f":8.98,"s":16},{"t":10.6,"f":8.87,"s":10},{"t":10.6,"f":8.75,"s":13},{"t":10.6,"f":8.65,"s":10},
{"t":10.85,"f":10.1,"s":16},{"t":10.85,"f":9.96,"s":10},{"t":10.85,"f":9.85,"s":10},{"t":10.85,"f":9.72,"s":13},{"t":10.85,"f":9.6,"s":19},{"t":10.85,"f":9.5,"s":19},{"t":10.85,"f":9.34,"s":10},{"t":10.85,"f":9.2,"s":16},{"t":10.85,"f":9.1,"s":16},{"t":10.85,"f":9.0,"s":10},{"t":10.85,"f":8.87,"s":10},{"t":10.85,"f":8.7,"s":10},{"t":10.85,"f":8.56,"s":16},{"t":10.85,"f":8.4,"s":10},{"t":10.85,"f":8.25,"s":10},
{"t":11.1,"f":10.5,"s":16},{"t":11.1,"f":10.28,"s":16},{"t":11.1,"f":10.15,"s":16},{"t":11.1,"f":10.05,"s":19},{"t":11.1,"f":9.93,"s":19},{"t":11.1,"f":9.8,"s":13},{"t":11.1,"f":9.68,"s":13},{"t":11.1,"f":9.57,"s":10},{"t":11.1,"f":9.4,"s":10},{"t":11.1,"f":9.26,"s":19},{"t":11.1,"f":9.13,"s":19},{"t":11.1,"f":9.03,"s":16},{"t":11.1,"f":8.85,"s":10},{"t":11.1,"f":8.7,"s":10},
{"t":11.35,"f":10.05,"s":10},{"t":11.35,"f":9.93,"s":10},{"t":11.35,"f":9.8,"s":13},{"t":11.35,"f":9.68,"s":13},{"t":11.35,"f":9.57,"s":16},{"t":11.35,"f":9.45,"s":16},{"t":11.35,"f":9.34,"s":10},{"t":11.35,"f":9.22,"s":10},{"t":11.35,"f":9.1,"s":10},{"t":11.35,"f":8.95,"s":10},{"t":11.35,"f":8.8,"s":10},
{"t":11.6,"f":10.43,"s":10},{"t":11.6,"f":10.2,"s":16},{"t":11.6,"f":10.07,"s":16},{"t":11.6,"f":9.96,"s":16},{"t":11.6,"f":9.82,"s":19},{"t":11.6,"f":9.68,"s":19},{"t":11.6,"f":9.57,"s":19},{"t":11.6,"f":9.45,"s":10},{"t":11.6,"f":9.34,"s":10},{"t":11.6,"f":9.22,"s":13},{"t":11.6,"f":9.1,"s":10},{"t":11.6,"f":8.95,"s":10},{"t":11.6,"f":8.75,"s":16},{"t":11.6,"f":8.56,"s":16},
{"t":11.85,"f":10.2,"s":19},{"t":11.85,"f":10.05,"s":19},{"t":11.85,"f":9.9,"s":19},{"t":11.85,"f":9.72,"s":19},{"t":11.85,"f":9.57,"s":10},{"t":11.85,"f":9.45,"s":13},{"t":11.85,"f":9.34,"s":13},{"t":11.85,"f":9.2,"s":10},{"t":11.85,"f":9.06,"s":10},{"t":11.85,"f":8.9,"s":10},{"t":11.85,"f":8.75,"s":13},
{"t":12.1,"f":10.05,"s":13},{"t":12.1,"f":9.93,"s":13},{"t":12.1,"f":9.8,"s":19},{"t":12.1,"f":9.65,"s":19},{"t":12.1,"f":9.5,"s":13},{"t":12.1,"f":9.34,"s":19},{"t":12.1,"f":9.2,"s":16},{"t":12.1,"f":9.1,"s":16},{"t":12.1,"f":8.98,"s":10},{"t":12.1,"f":8.87,"s":10},
{"t":12.3,"f":9.96,"s":16},{"t":12.3,"f":9.85,"s":16},{"t":12.3,"f":9.72,"s":10},{"t":12.3,"f":9.6,"s":10},{"t":12.3,"f":9.5,"s":19},{"t":12.3,"f":9.38,"s":19},{"t":12.3,"f":9.26,"s":13},{"t":12.3,"f":9.1,"s":13},{"t":12.3,"f":8.95,"s":10},{"t":12.3,"f":8.8,"s":10},{"t":12.3,"f":8.56,"s":13},{"t":12.3,"f":8.4,"s":13},{"t":12.3,"f":8.25,"s":13},
{"t":12.55,"f":10.4,"s":19},{"t":12.55,"f":10.25,"s":19},{"t":12.55,"f":10.05,"s":10},{"t":12.55,"f":9.93,"s":13},{"t":12.55,"f":9.8,"s":13},{"t":12.55,"f":9.68,"s":19},{"t":12.55,"f":9.57,"s":19},{"t":12.55,"f":9.45,"s":19},{"t":12.55,"f":9.34,"s":19},{"t":12.55,"f":9.22,"s":19},{"t":12.55,"f":9.1,"s":19},{"t":12.55,"f":8.98,"s":10},{"t":12.55,"f":8.87,"s":10},{"t":12.55,"f":8.75,"s":13},{"t":12.55,"f":8.64,"s":13},
{"t":12.8,"f":9.88,"s":10},{"t":12.8,"f":9.76,"s":10},{"t":12.8,"f":9.65,"s":13},{"t":12.8,"f":9.53,"s":13},{"t":12.8,"f":9.42,"s":16},{"t":12.8,"f":9.3,"s":16},{"t":12.8,"f":9.18,"s":19},{"t":12.8,"f":9.03,"s":19},{"t":12.8,"f":8.87,"s":13},{"t":12.8,"f":8.7,"s":10},{"t":12.8,"f":8.56,"s":10},{"t":12.8,"f":8.3,"s":10},
{"t":13.0,"f":9.57,"s":10},{"t":13.0,"f":9.42,"s":19},{"t":13.0,"f":9.26,"s":19},{"t":13.0,"f":9.15,"s":10},{"t":13.0,"f":9.03,"s":10},{"t":13.0,"f":8.9,"s":10},{"t":13.0,"f":8.8,"s":10},{"t":13.0,"f":8.65,"s":13},{"t":13.0,"f":8.48,"s":13},{"t":13.0,"f":8.35,"s":10},{"t":13.0,"f":8.17,"s":10},
{"t":13.2,"f":10.05,"s":10},{"t":13.2,"f":9.9,"s":13},{"t":13.2,"f":9.72,"s":16},{"t":13.2,"f":9.6,"s":13},{"t":13.2,"f":9.5,"s":13},{"t":13.2,"f":9.34,"s":10},{"t":13.2,"f":9.22,"s":19},{"t":13.2,"f":9.1,"s":19},{"t":13.2,"f":8.98,"s":10},{"t":13.2,"f":8.87,"s":10},{"t":13.2,"f":8.75,"s":13},{"t":13.2,"f":8.64,"s":13},{"t":13.2,"f":8.5,"s":10},{"t":13.2,"f":8.33,"s":10},
{"t":13.45,"f":9.8,"s":10},{"t":13.45,"f":9.68,"s":10},{"t":13.45,"f":9.57,"s":13},{"t":13.45,"f":9.45,"s":13},{"t":13.45,"f":9.34,"s":10},{"t":13.45,"f":9.22,"s":10},{"t":13.45,"f":9.1,"s":16},{"t":13.45,"f":8.98,"s":16},{"t":13.45,"f":8.87,"s":13},{"t":13.45,"f":8.75,"s":10},{"t":13.45,"f":8.64,"s":10},{"t":13.45,"f":8.4,"s":10},
{"t":13.65,"f":10.58,"s":13},{"t":13.65,"f":10.43,"s":16},{"t":13.65,"f":10.27,"s":19},{"t":13.65,"f":10.12,"s":10},{"t":13.65,"f":9.96,"s":16},{"t":13.65,"f":9.8,"s":10},{"t":13.65,"f":9.57,"s":16},{"t":13.65,"f":9.34,"s":10},{"t":13.65,"f":9.1,"s":13},{"t":13.65,"f":8.87,"s":10},{"t":13.65,"f":8.64,"s":13},{"t":13.65,"f":8.33,"s":10},{"t":13.65,"f":8.17,"s":13},
{"t":13.9,"f":9.65,"s":16},{"t":13.9,"f":9.53,"s":16},{"t":13.9,"f":9.42,"s":10},{"t":13.9,"f":9.3,"s":10},{"t":13.9,"f":9.18,"s":13},{"t":13.9,"f":9.06,"s":13},{"t":13.9,"f":8.95,"s":13},{"t":13.9,"f":8.8,"s":13},{"t":13.9,"f":8.64,"s":10},{"t":13.9,"f":8.5,"s":10},{"t":13.9,"f":8.33,"s":10},
{"t":14.05,"f":9.72,"s":16},{"t":14.05,"f":9.5,"s":10},{"t":14.05,"f":9.34,"s":19},{"t":14.05,"f":9.2,"s":10},{"t":14.05,"f":9.1,"s":10},{"t":14.05,"f":8.95,"s":16},{"t":14.05,"f":8.8,"s":16},{"t":14.05,"f":8.7,"s":19},{"t":14.05,"f":8.56,"s":19},{"t":14.05,"f":8.33,"s":10},{"t":14.05,"f":8.1,"s":13},
{"t":14.3,"f":9.03,"s":13},{"t":14.3,"f":8.92,"s":13},{"t":14.3,"f":8.8,"s":10},{"t":14.3,"f":8.68,"s":10},{"t":14.3,"f":8.56,"s":10},{"t":14.3,"f":8.4,"s":13},{"t":14.3,"f":8.25,"s":19},{"t":14.3,"f":8.1,"s":10},
{"t":14.55,"f":8.95,"s":16},{"t":14.55,"f":8.72,"s":13},{"t":14.55,"f":8.6,"s":13},{"t":14.55,"f":8.48,"s":19},{"t":14.55,"f":8.33,"s":19},{"t":14.55,"f":8.17,"s":10},{"t":14.55,"f":8.0,"s":10},
{"t":14.8,"f":9.18,"s":13},{"t":14.8,"f":9.06,"s":13},{"t":14.8,"f":8.95,"s":13},{"t":14.8,"f":8.84,"s":19},{"t":14.8,"f":8.72,"s":19},{"t":14.8,"f":8.6,"s":10},{"t":14.8,"f":8.48,"s":10},{"t":14.8,"f":8.3,"s":10},
{"t":15.05,"f":9.1,"s":13},{"t":15.05,"f":8.95,"s":13},{"t":15.05,"f":8.8,"s":10},{"t":15.05,"f":8.6,"s":10},{"t":15.05,"f":8.4,"s":13},
{"t":15.3,"f":9.26,"s":16},{"t":15.3,"f":9.15,"s":16},{"t":15.3,"f":9.03,"s":16},{"t":15.3,"f":8.92,"s":10},{"t":15.3,"f":8.8,"s":10},{"t":15.3,"f":8.64,"s":19},{"t":15.3,"f":8.48,"s":13},{"t":15.3,"f":8.33,"s":13},{"t":15.3,"f":8.2,"s":10},
{"t":15.55,"f":8.87,"s":10},{"t":15.55,"f":8.75,"s":10},{"t":15.55,"f":8.64,"s":16},{"t":15.55,"f":8.5,"s":16},{"t":15.55,"f":8.3,"s":10},{"t":15.8,"f":8.7,"s":10},{"t":15.8,"f":8.56,"s":10},{"t":15.8,"f":8.4,"s":10},{"t":15.8,"f":8.17,"s":10},
{"t":16.05,"f":8.8,"s":19},{"t":16.05,"f":8.68,"s":19},{"t":16.05,"f":8.56,"s":13},{"t":16.05,"f":8.44,"s":13},{"t":16.05,"f":8.33,"s":10},{"t":16.05,"f":8.2,"s":10},{"t":16.05,"f":8.1,"s":10},
{"t":16.3,"f":8.8,"s":19},{"t":16.3,"f":8.68,"s":19},{"t":16.3,"f":8.56,"s":10},{"t":16.3,"f":8.44,"s":10},{"t":16.3,"f":8.2,"s":19},{"t":16.3,"f":8.1,"s":13},
{"t":16.55,"f":9.18,"s":10},{"t":16.55,"f":9.06,"s":10},{"t":16.55,"f":8.95,"s":13},{"t":16.55,"f":8.8,"s":13},{"t":16.55,"f":8.64,"s":10},{"t":16.55,"f":8.45,"s":10},{"t":16.55,"f":8.25,"s":19},
{"t":16.8,"f":9.13,"s":19},{"t":16.8,"f":9.03,"s":19},{"t":16.8,"f":8.95,"s":16},{"t":16.8,"f":8.75,"s":16},{"t":16.8,"f":8.56,"s":10},{"t":16.8,"f":8.4,"s":10},{"t":16.8,"f":8.2,"s":13},
{"t":17.05,"f":8.95,"s":13},{"t":17.05,"f":8.8,"s":13},{"t":17.05,"f":8.64,"s":16},{"t":17.05,"f":8.45,"s":16},{"t":17.05,"f":8.25,"s":10},{"t":17.05,"f":8.1,"s":10},
{"t":17.3,"f":9.1,"s":13},{"t":17.3,"f":9.0,"s":13},{"t":17.3,"f":8.87,"s":10},{"t":17.3,"f":8.7,"s":10},{"t":17.3,"f":8.48,"s":13},{"t":17.3,"f":8.35,"s":13},{"t":17.3,"f":8.17,"s":16},
{"t":17.55,"f":9.34,"s":10},{"t":17.55,"f":9.22,"s":10},{"t":17.55,"f":9.1,"s":13},{"t":17.55,"f":8.98,"s":13},{"t":17.55,"f":8.87,"s":13},{"t":17.55,"f":8.7,"s":10},{"t":17.55,"f":8.45,"s":13},{"t":17.55,"f":8.25,"s":13},
{"t":17.8,"f":9.65,"s":10},{"t":17.8,"f":9.49,"s":10},{"t":17.8,"f":9.38,"s":19},{"t":17.8,"f":9.26,"s":19},{"t":17.8,"f":9.1,"s":19},{"t":17.8,"f":9.0,"s":13},{"t":17.8,"f":8.87,"s":13},{"t":17.8,"f":8.75,"s":10},{"t":17.8,"f":8.64,"s":10},{"t":17.8,"f":8.45,"s":10},{"t":17.8,"f":8.25,"s":19},
{"t":18.05,"f":9.8,"s":10},{"t":18.05,"f":9.68,"s":10},{"t":18.05,"f":9.57,"s":13},{"t":18.05,"f":9.45,"s":19},{"t":18.05,"f":9.34,"s":19},{"t":18.05,"f":9.22,"s":19},{"t":18.05,"f":9.1,"s":19},{"t":18.05,"f":8.95,"s":16},{"t":18.05,"f":8.8,"s":16},{"t":18.05,"f":8.68,"s":13},{"t":18.05,"f":8.56,"s":13},{"t":18.05,"f":8.35,"s":10},
{"t":18.3,"f":9.96,"s":19},{"t":18.3,"f":9.77,"s":10},{"t":18.3,"f":9.55,"s":10},{"t":18.3,"f":9.34,"s":13},{"t":18.3,"f":9.22,"s":13},{"t":18.3,"f":9.1,"s":19},{"t":18.3,"f":8.95,"s":19},{"t":18.3,"f":8.8,"s":10},{"t":18.3,"f":8.6,"s":10},{"t":18.3,"f":8.4,"s":16},{"t":18.3,"f":8.25,"s":19},
{"t":18.55,"f":10.12,"s":19},{"t":18.55,"f":9.96,"s":19},{"t":18.55,"f":9.8,"s":13},{"t":18.55,"f":9.65,"s":13},{"t":18.55,"f":9.5,"s":19},{"t":18.55,"f":9.34,"s":19},{"t":18.55,"f":9.22,"s":16},{"t":18.55,"f":9.1,"s":16},{"t":18.55,"f":8.95,"s":10},{"t":18.55,"f":8.8,"s":10},{"t":18.55,"f":8.6,"s":16},{"t":18.55,"f":8.41,"s":16},
{"t":18.8,"f":10.27,"s":13},{"t":18.8,"f":10.12,"s":16},{"t":18.8,"f":9.96,"s":10},{"t":18.8,"f":9.8,"s":16},{"t":18.8,"f":9.65,"s":19},{"t":18.8,"f":9.5,"s":19},{"t":18.8,"f":9.34,"s":10},{"t":18.8,"f":9.2,"s":10},{"t":18.8,"f":8.95,"s":16},{"t":18.8,"f":8.7,"s":16},{"t":18.8,"f":8.45,"s":19},{"t":18.8,"f":8.25,"s":19},
{"t":19.05,"f":9.96,"s":19},{"t":19.05,"f":9.84,"s":19},{"t":19.05,"f":9.72,"s":10},{"t":19.05,"f":9.5,"s":10},{"t":19.05,"f":9.26,"s":19},{"t":19.05,"f":9.1,"s":19},{"t":19.05,"f":8.98,"s":10},{"t":19.05,"f":8.87,"s":10},{"t":19.05,"f":8.75,"s":16},{"t":19.05,"f":8.64,"s":16},{"t":19.05,"f":8.4,"s":10},{"t":19.05,"f":8.17,"s":10},
{"t":19.3,"f":9.88,"s":19},{"t":19.3,"f":9.7,"s":10},{"t":19.3,"f":9.5,"s":16},{"t":19.3,"f":9.34,"s":16},{"t":19.3,"f":9.22,"s":13},{"t":19.3,"f":9.1,"s":13},{"t":19.3,"f":8.95,"s":10},{"t":19.3,"f":8.8,"s":10},{"t":19.3,"f":8.6,"s":13},{"t":19.3,"f":8.3,"s":10},
{"t":19.55,"f":9.8,"s":13},{"t":19.55,"f":9.55,"s":13},{"t":19.55,"f":9.34,"s":19},{"t":19.55,"f":9.22,"s":19},{"t":19.55,"f":9.1,"s":13},{"t":19.55,"f":8.95,"s":13},{"t":19.55,"f":8.8,"s":19},{"t":19.55,"f":8.65,"s":19},{"t":19.55,"f":8.48,"s":16},{"t":19.55,"f":8.3,"s":16},
{"t":19.8,"f":9.5,"s":10},{"t":19.8,"f":9.34,"s":10},{"t":19.8,"f":9.22,"s":13},{"t":19.8,"f":9.1,"s":13},{"t":19.8,"f":8.95,"s":19},{"t":19.8,"f":8.8,"s":19},{"t":19.8,"f":8.6,"s":19},{"t":19.8,"f":8.4,"s":13},{"t":19.8,"f":8.25,"s":13},
{"t":20.1,"f":9.34,"s":16},{"t":20.1,"f":9.18,"s":13},{"t":20.1,"f":9.05,"s":13},{"t":20.1,"f":8.87,"s":10},{"t":20.1,"f":8.75,"s":10},{"t":20.1,"f":8.64,"s":13},{"t":20.1,"f":8.45,"s":13},{"t":20.1,"f":8.25,"s":16},
{"t":20.3,"f":9.3,"s":16},{"t":20.3,"f":9.15,"s":16},{"t":20.3,"f":9.03,"s":10},{"t":20.3,"f":8.85,"s":10},{"t":20.3,"f":8.64,"s":13},{"t":20.3,"f":8.45,"s":13},{"t":20.3,"f":8.25,"s":13},
{"t":20.55,"f":8.8,"s":19},{"t":20.55,"f":8.68,"s":19},{"t":20.55,"f":8.56,"s":16},{"t":20.55,"f":8.4,"s":13},{"t":20.55,"f":8.25,"s":13},
{"t":20.8,"f":8.8,"s":19},{"t":20.8,"f":8.64,"s":10},{"t":20.8,"f":8.45,"s":10},{"t":20.8,"f":8.25,"s":10},
{"t":21.0,"f":8.8,"s":19},{"t":21.1,"f":8.8,"s":19},{"t":21.0,"f":8.25,"s":10},{"t":21.3,"f":8.2,"s":13},{"t":21.3,"f":8.1,"s":13},
{"t":12.1,"f":7.9,"s":10},{"t":12.1,"f":7.75,"s":13},{"t":12.35,"f":8.06,"s":13},{"t":12.55,"f":7.6,"s":10},{"t":12.8,"f":8.22,"s":10},{"t":12.8,"f":7.83,"s":10},{"t":13.05,"f":7.98,"s":10},{"t":13.05,"f":7.52,"s":10},{"t":13.3,"f":7.6,"s":10},{"t":13.38,"f":7.5,"s":10},{"t":13.55,"f":8.14,"s":13},{"t":13.55,"f":6.6,"s":10},{"t":13.7,"f":7.67,"s":10},{"t":13.7,"f":7.25,"s":10},{"t":13.95,"f":8.14,"s":10},{"t":13.95,"f":7.7,"s":10},{"t":14.1,"f":8.14,"s":10},{"t":14.1,"f":7.9,"s":10},{"t":14.1,"f":7.67,"s":10},{"t":14.1,"f":7.18,"s":10},{"t":14.3,"f":8.14,"s":10},{"t":14.3,"f":7.85,"s":10},
{"t":14.55,"f":8.14,"s":10},{"t":14.55,"f":7.9,"s":10},{"t":14.55,"f":7.48,"s":10},{"t":14.8,"f":8.17,"s":10},{"t":14.8,"f":7.9,"s":13},{"t":14.8,"f":7.75,"s":19},{"t":14.8,"f":7.6,"s":16},{"t":14.8,"f":7.36,"s":10},{"t":15.05,"f":7.98,"s":13},{"t":15.05,"f":7.7,"s":10},{"t":15.05,"f":7.52,"s":16},{"t":15.3,"f":7.7,"s":10},
{"t":15.55,"f":8.22,"s":10},{"t":15.55,"f":7.98,"s":16},{"t":15.55,"f":7.67,"s":19},{"t":15.55,"f":7.44,"s":13},{"t":15.55,"f":7.18,"s":10},{"t":15.8,"f":8.06,"s":10},{"t":15.8,"f":7.75,"s":10},{"t":15.8,"f":7.36,"s":10},{"t":15.8,"f":7.21,"s":10},
{"t":16.05,"f":7.83,"s":10},{"t":16.05,"f":7.52,"s":10},{"t":16.05,"f":7.28,"s":10},{"t":16.05,"f":6.97,"s":10},{"t":16.3,"f":7.67,"s":10},{"t":16.3,"f":7.28,"s":13},{"t":16.3,"f":6.97,"s":10},{"t":16.3,"f":6.74,"s":10},{"t":16.3,"f":6.55,"s":13},
{"t":16.5,"f":8.06,"s":10},{"t":16.5,"f":7.83,"s":13},{"t":16.5,"f":7.67,"s":13},{"t":16.5,"f":7.52,"s":19},{"t":16.5,"f":7.36,"s":16},{"t":16.5,"f":7.21,"s":10},{"t":16.5,"f":6.7,"s":13},{"t":16.7,"f":8.14,"s":10},{"t":16.7,"f":7.83,"s":13},{"t":16.7,"f":7.67,"s":13},{"t":16.7,"f":7.52,"s":16},{"t":16.7,"f":7.4,"s":16},{"t":16.7,"f":7.28,"s":10},{"t":16.7,"f":6.97,"s":10},{"t":16.7,"f":6.82,"s":10},
{"t":16.9,"f":8.06,"s":10},{"t":16.9,"f":7.36,"s":10},{"t":16.9,"f":6.82,"s":10},{"t":16.85,"f":5.7,"s":10},{"t":17.15,"f":8.06,"s":19},{"t":17.15,"f":7.83,"s":10},{"t":17.15,"f":7.72,"s":10},{"t":17.15,"f":7.6,"s":16},{"t":17.15,"f":7.48,"s":16},{"t":17.15,"f":7.36,"s":10},{"t":17.15,"f":6.92,"s":10},{"t":17.15,"f":6.25,"s":10},
{"t":17.4,"f":8.06,"s":13},{"t":17.4,"f":7.9,"s":13},{"t":17.4,"f":7.75,"s":10},{"t":17.4,"f":7.55,"s":10},{"t":17.4,"f":7.36,"s":16},{"t":17.4,"f":6.97,"s":13},{"t":17.4,"f":6.66,"s":10},{"t":17.4,"f":6.55,"s":13},{"t":17.4,"f":6.3,"s":10},{"t":17.65,"f":8.14,"s":13},{"t":17.65,"f":7.67,"s":10},{"t":17.65,"f":7.5,"s":10},{"t":17.65,"f":7.36,"s":10},{"t":17.65,"f":6.97,"s":13},
{"t":17.9,"f":8.14,"s":13},{"t":17.9,"f":7.75,"s":13},{"t":17.9,"f":7.21,"s":10},{"t":17.9,"f":7.13,"s":10},{"t":18.1,"f":7.98,"s":16},{"t":18.1,"f":7.8,"s":16},{"t":18.1,"f":7.6,"s":10},{"t":18.1,"f":7.3,"s":10},{"t":18.1,"f":7.05,"s":10},{"t":18.1,"f":6.9,"s":16},{"t":18.1,"f":6.66,"s":10},{"t":18.1,"f":6.27,"s":16},
{"t":18.35,"f":7.98,"s":19},{"t":18.35,"f":7.83,"s":19},{"t":18.35,"f":7.67,"s":10},{"t":18.35,"f":7.4,"s":10},{"t":18.35,"f":7.13,"s":10},{"t":18.35,"f":6.9,"s":10},{"t":18.35,"f":6.74,"s":10},{"t":18.35,"f":6.27,"s":13},{"t":18.35,"f":6.04,"s":10},
{"t":18.6,"f":8.14,"s":19},{"t":18.6,"f":7.9,"s":19},{"t":18.6,"f":7.6,"s":10},{"t":18.6,"f":7.4,"s":10},{"t":18.6,"f":7.21,"s":10},{"t":18.6,"f":6.97,"s":10},{"t":18.6,"f":6.58,"s":13},
{"t":18.85,"f":8.22,"s":19},{"t":18.85,"f":8.0,"s":19},{"t":18.85,"f":7.83,"s":10},{"t":18.85,"f":7.6,"s":10},{"t":18.85,"f":7.36,"s":13},{"t":18.85,"f":7.1,"s":13},{"t":18.85,"f":6.9,"s":19},{"t":18.85,"f":6.66,"s":16},{"t":18.85,"f":6.27,"s":13},
{"t":19.1,"f":8.14,"s":19},{"t":19.1,"f":7.95,"s":19},{"t":19.1,"f":7.83,"s":10},{"t":19.1,"f":7.65,"s":13},{"t":19.1,"f":7.52,"s":13},{"t":19.1,"f":7.2,"s":10},{"t":19.1,"f":6.97,"s":10},{"t":19.1,"f":6.74,"s":16},
{"t":19.3,"f":8.06,"s":13},{"t":19.3,"f":7.9,"s":13},{"t":19.3,"f":7.75,"s":16},{"t":19.3,"f":7.55,"s":16},{"t":19.3,"f":7.36,"s":10},{"t":19.3,"f":7.1,"s":10},{"t":19.3,"f":6.9,"s":10},{"t":19.3,"f":6.66,"s":16},{"t":19.3,"f":6.27,"s":10},
{"t":19.55,"f":8.06,"s":19},{"t":19.55,"f":7.85,"s":19},{"t":19.55,"f":7.67,"s":10},{"t":19.55,"f":7.5,"s":13},{"t":19.55,"f":7.36,"s":13},{"t":19.55,"f":7.13,"s":13},{"t":19.55,"f":6.9,"s":10},{"t":19.55,"f":6.66,"s":10},{"t":19.55,"f":6.27,"s":10},
{"t":19.8,"f":8.14,"s":10},{"t":19.8,"f":8.0,"s":19},{"t":19.8,"f":7.83,"s":19},{"t":19.8,"f":7.65,"s":19},{"t":19.8,"f":7.36,"s":10},{"t":19.8,"f":7.15,"s":10},{"t":19.8,"f":6.9,"s":10},{"t":19.8,"f":6.66,"s":16},{"t":19.8,"f":6.2,"s":10},
{"t":20.05,"f":8.14,"s":19},{"t":20.05,"f":7.98,"s":19},{"t":20.05,"f":7.83,"s":19},{"t":20.05,"f":7.65,"s":19},{"t":20.05,"f":7.36,"s":10},{"t":20.05,"f":7.15,"s":10},{"t":20.05,"f":6.97,"s":19},{"t":20.05,"f":6.85,"s":16},{"t":20.05,"f":6.74,"s":16},{"t":20.05,"f":6.58,"s":10},{"t":20.05,"f":5.96,"s":10},
{"t":20.3,"f":7.98,"s":10},{"t":20.3,"f":7.8,"s":16},{"t":20.3,"f":7.6,"s":16},{"t":20.3,"f":7.4,"s":10},{"t":20.3,"f":7.21,"s":10},{"t":20.3,"f":6.97,"s":19},{"t":20.3,"f":6.74,"s":16},{"t":20.3,"f":6.5,"s":10},{"t":20.3,"f":6.27,"s":10},
{"t":20.55,"f":8.14,"s":10},{"t":20.55,"f":7.9,"s":19},{"t":20.55,"f":7.67,"s":19},{"t":20.55,"f":7.52,"s":19},{"t":20.55,"f":7.36,"s":13},{"t":20.55,"f":7.15,"s":13},{"t":20.55,"f":6.97,"s":10},{"t":20.55,"f":6.8,"s":10},{"t":20.55,"f":6.66,"s":16},{"t":20.55,"f":6.35,"s":13},{"t":20.55,"f":5.96,"s":13},
{"t":20.8,"f":8.06,"s":19},{"t":20.8,"f":7.95,"s":19},{"t":20.8,"f":7.83,"s":16},{"t":20.8,"f":7.6,"s":10},{"t":20.8,"f":7.21,"s":19},{"t":20.8,"f":7.0,"s":19},{"t":20.8,"f":6.74,"s":10},
{"t":21.05,"f":7.98,"s":10},{"t":21.05,"f":7.75,"s":10},{"t":21.05,"f":7.52,"s":10},{"t":21.05,"f":7.3,"s":10},{"t":21.05,"f":6.97,"s":10},{"t":21.05,"f":6.66,"s":10},
{"t":21.3,"f":7.9,"s":19},{"t":21.3,"f":7.6,"s":16},{"t":21.3,"f":7.45,"s":16},{"t":21.3,"f":7.28,"s":10},{"t":21.3,"f":7.0,"s":10},{"t":21.3,"f":6.74,"s":16},{"t":21.3,"f":6.27,"s":10},{"t":21.3,"f":6.12,"s":10},
{"t":21.55,"f":7.85,"s":19},{"t":21.55,"f":7.6,"s":16},{"t":21.55,"f":7.45,"s":16},{"t":21.55,"f":7.28,"s":13},{"t":21.55,"f":7.1,"s":13},{"t":21.55,"f":6.97,"s":10},{"t":21.55,"f":6.66,"s":10},
{"t":21.8,"f":7.9,"s":16},{"t":21.8,"f":7.75,"s":16},{"t":21.8,"f":7.6,"s":16},{"t":21.8,"f":7.45,"s":13},{"t":21.8,"f":7.28,"s":13},{"t":21.8,"f":7.1,"s":10},{"t":21.8,"f":6.97,"s":10},{"t":21.8,"f":6.27,"s":10},
{"t":22.05,"f":7.83,"s":19},{"t":22.05,"f":7.65,"s":19},{"t":22.05,"f":7.52,"s":10},{"t":22.05,"f":7.3,"s":10},{"t":22.05,"f":7.13,"s":10},{"t":22.05,"f":6.9,"s":13},{"t":22.05,"f":6.74,"s":13},{"t":22.05,"f":6.58,"s":10},{"t":22.05,"f":6.2,"s":10},
{"t":22.3,"f":7.52,"s":16},{"t":22.3,"f":7.4,"s":16},{"t":22.3,"f":7.28,"s":19},{"t":22.3,"f":7.13,"s":10},{"t":22.3,"f":6.97,"s":10},{"t":22.3,"f":6.66,"s":13},{"t":22.3,"f":6.27,"s":13},
{"t":22.55,"f":7.52,"s":10},{"t":22.55,"f":6.9,"s":10},{"t":22.55,"f":6.66,"s":10},{"t":22.55,"f":6.2,"s":10},
{"t":22.8,"f":7.75,"s":10},{"t":22.8,"f":6.95,"s":10},{"t":22.8,"f":6.25,"s":10},{"t":22.9,"f":7.75,"s":10},{"t":23.1,"f":7.75,"s":19},{"t":23.2,"f":7.75,"s":13},{"t":23.1,"f":6.95,"s":10},{"t":23.3,"f":7.75,"s":16},{"t":23.4,"f":7.75,"s":10},{"t":23.3,"f":6.95,"s":10},{"t":23.3,"f":6.6,"s":10},{"t":23.3,"f":6.2,"s":10},{"t":23.5,"f":7.75,"s":10},{"t":23.6,"f":7.75,"s":10},{"t":23.5,"f":6.97,"s":10},{"t":23.75,"f":7.75,"s":10},{"t":23.85,"f":7.75,"s":10},{"t":23.95,"f":7.75,"s":10},{"t":23.9,"f":6.97,"s":10},
{"t":18.1,"f":5.57,"s":10},{"t":18.1,"f":5.42,"s":10},{"t":18.1,"f":5.03,"s":10},{"t":18.1,"f":4.88,"s":10},{"t":18.15,"f":4.56,"s":10},{"t":18.08,"f":4.35,"s":10},{"t":18.35,"f":5.6,"s":10},{"t":18.35,"f":5.42,"s":10},{"t":18.35,"f":5.2,"s":10},{"t":18.35,"f":5.03,"s":10},{"t":18.35,"f":4.88,"s":10},{"t":18.35,"f":4.56,"s":10},{"t":18.35,"f":4.33,"s":10},{"t":18.35,"f":4.12,"s":10},{"t":18.35,"f":3.9,"s":10},
{"t":18.67,"f":5.5,"s":10},{"t":18.67,"f":4.75,"s":10},{"t":18.67,"f":4.5,"s":10},{"t":18.67,"f":4.35,"s":10},{"t":18.57,"f":4.75,"s":10},{"t":18.57,"f":4.5,"s":10},{"t":18.57,"f":4.2,"s":10},{"t":18.9,"f":5.25,"s":10},{"t":18.8,"f":4.2,"s":10},
{"t":18.67,"f":3.87,"s":10},{"t":18.67,"f":3.7,"s":10},{"t":18.67,"f":3.55,"s":10},{"t":18.67,"f":3.4,"s":13},{"t":18.67,"f":3.25,"s":10},{"t":18.67,"f":3.1,"s":10},{"t":18.67,"f":2.98,"s":10},{"t":18.83,"f":3.5,"s":10},{"t":18.83,"f":2.95,"s":10},{"t":18.83,"f":2.8,"s":10},{"t":18.83,"f":3.1,"s":10},{"t":19.07,"f":3.95,"s":13},{"t":19.07,"f":3.55,"s":10},{"t":19.07,"f":3.15,"s":13},{"t":19.15,"f":3.15,"s":13},{"t":19.07,"f":2.9,"s":10},
{"t":19.32,"f":3.7,"s":10},{"t":19.32,"f":3.55,"s":10},{"t":19.32,"f":3.4,"s":10},{"t":19.32,"f":3.25,"s":10},{"t":19.32,"f":2.95,"s":19},{"t":19.32,"f":2.85,"s":16},{"t":19.32,"f":2.7,"s":10},{"t":19.32,"f":2.46,"s":16},{"t":19.32,"f":2.23,"s":13},{"t":19.32,"f":5.03,"s":10},{"t":19.32,"f":4.85,"s":10},{"t":19.32,"f":4.6,"s":10},{"t":19.32,"f":4.35,"s":10},{"t":19.15,"f":2.1,"s":10},{"t":19.4,"f":2.1,"s":10},
{"t":19.6,"f":5.65,"s":13},{"t":19.6,"f":5.5,"s":10},{"t":19.6,"f":5.3,"s":10},{"t":19.6,"f":5.15,"s":10},{"t":19.6,"f":4.85,"s":10},{"t":19.6,"f":3.75,"s":10},{"t":19.7,"f":3.75,"s":10},{"t":19.6,"f":2.93,"s":13},{"t":19.6,"f":2.77,"s":10},{"t":19.8,"f":5.7,"s":19},{"t":19.8,"f":5.58,"s":19},{"t":19.8,"f":5.45,"s":19},{"t":19.8,"f":5.26,"s":10},{"t":19.8,"f":4.95,"s":10},{"t":19.8,"f":4.8,"s":10},{"t":19.8,"f":4.56,"s":16},{"t":19.8,"f":4.45,"s":13},{"t":19.8,"f":2.93,"s":10},{"t":19.8,"f":2.77,"s":10},
{"t":20.05,"f":5.65,"s":10},{"t":20.05,"f":5.26,"s":10},{"t":20.05,"f":4.95,"s":10},{"t":20.05,"f":3.71,"s":10},{"t":20.05,"f":3.55,"s":10},{"t":20.05,"f":3.4,"s":10},{"t":20.05,"f":2.93,"s":16},{"t":20.05,"f":1.92,"s":10},{"t":20.05,"f":1.76,"s":10},{"t":20.12,"f":5.65,"s":19},{"t":20.12,"f":5.42,"s":16},{"t":20.12,"f":5.15,"s":19},{"t":20.12,"f":5.0,"s":19},{"t":20.12,"f":4.85,"s":19},{"t":20.12,"f":4.56,"s":10},{"t":20.12,"f":2.39,"s":10},
{"t":20.35,"f":5.1,"s":10},{"t":20.35,"f":4.8,"s":10},{"t":20.35,"f":4.33,"s":13},{"t":20.35,"f":4.17,"s":10},{"t":20.35,"f":3.71,"s":10},{"t":20.35,"f":3.47,"s":10},{"t":20.35,"f":3.05,"s":10},{"t":20.35,"f":2.85,"s":10},{"t":20.35,"f":2.65,"s":10},{"t":20.35,"f":2.46,"s":16},{"t":20.35,"f":2.23,"s":16},{"t":20.35,"f":2.0,"s":16},{"t":20.35,"f":1.76,"s":10},
{"t":20.6,"f":5.96,"s":10},{"t":20.6,"f":5.73,"s":13},{"t":20.6,"f":5.55,"s":19},{"t":20.6,"f":5.45,"s":10},{"t":20.6,"f":4.49,"s":10},{"t":20.6,"f":4.17,"s":10},{"t":20.6,"f":3.79,"s":10},{"t":20.6,"f":3.55,"s":10},{"t":20.6,"f":3.16,"s":10},{"t":20.6,"f":2.77,"s":13},{"t":20.6,"f":2.15,"s":10},{"t":20.6,"f":1.92,"s":10},{"t":20.7,"f":3.79,"s":10},{"t":20.7,"f":3.63,"s":10},
{"t":20.85,"f":5.5,"s":10},{"t":20.85,"f":5.03,"s":10},{"t":20.85,"f":4.75,"s":19},{"t":20.85,"f":4.56,"s":10},{"t":20.85,"f":4.17,"s":13},{"t":20.85,"f":3.71,"s":10},{"t":20.85,"f":3.47,"s":10},{"t":20.85,"f":3.16,"s":10},{"t":20.85,"f":2.85,"s":10},{"t":20.85,"f":2.62,"s":10},{"t":20.85,"f":2.39,"s":10},
{"t":21.05,"f":4.8,"s":19},{"t":21.05,"f":4.56,"s":13},{"t":21.05,"f":3.63,"s":13},{"t":21.05,"f":3.47,"s":19},{"t":21.05,"f":3.01,"s":10},{"t":21.05,"f":2.46,"s":10},{"t":21.05,"f":2.15,"s":10},
{"t":21.3,"f":5.5,"s":10},{"t":21.3,"f":4.8,"s":10},{"t":21.3,"f":4.64,"s":10},{"t":21.3,"f":4.49,"s":13},{"t":21.3,"f":3.55,"s":10},{"t":21.3,"f":2.93,"s":13},{"t":21.3,"f":2.46,"s":13},{"t":21.3,"f":2.15,"s":13},{"t":21.3,"f":2.0,"s":10},{"t":21.3,"f":1.69,"s":16},
{"t":21.55,"f":4.8,"s":10},{"t":21.55,"f":4.64,"s":10},{"t":21.55,"f":4.33,"s":13},{"t":21.55,"f":3.71,"s":10},{"t":21.55,"f":3.55,"s":10},{"t":21.55,"f":3.4,"s":10},{"t":21.55,"f":2.93,"s":13},{"t":21.55,"f":2.46,"s":10},{"t":21.55,"f":2.0,"s":10},{"t":21.55,"f":1.76,"s":10},
{"t":21.8,"f":5.5,"s":10},{"t":21.8,"f":4.8,"s":10},{"t":21.8,"f":4.64,"s":10},{"t":21.8,"f":4.33,"s":10},{"t":21.8,"f":2.85,"s":10},{"t":21.8,"f":2.12,"s":10},
{"t":22.05,"f":5.03,"s":13},{"t":22.05,"f":4.88,"s":13},{"t":22.05,"f":4.72,"s":19},{"t":22.05,"f":4.5,"s":10},{"t":22.05,"f":4.35,"s":10},{"t":22.3,"f":4.8,"s":13},{"t":22.3,"f":4.64,"s":16},{"t":22.3,"f":4.33,"s":10},{"t":22.3,"f":4.18,"s":13},
{"t":22.55,"f":5.03,"s":10},{"t":22.55,"f":4.88,"s":10},{"t":22.55,"f":4.72,"s":13},{"t":22.55,"f":4.56,"s":19},{"t":22.55,"f":4.33,"s":13},{"t":22.55,"f":3.97,"s":10},{"t":22.55,"f":3.16,"s":10},{"t":22.55,"f":3.01,"s":10},{"t":22.55,"f":2.85,"s":16},{"t":22.55,"f":2.46,"s":13},{"t":22.55,"f":2.15,"s":16},
{"t":22.8,"f":5.65,"s":13},{"t":22.8,"f":5.5,"s":13},{"t":22.8,"f":5.26,"s":10},{"t":22.8,"f":5.0,"s":13},{"t":22.8,"f":4.85,"s":13},{"t":22.8,"f":4.7,"s":13},{"t":22.8,"f":4.5,"s":10},{"t":22.8,"f":3.9,"s":10},{"t":22.8,"f":3.71,"s":10},{"t":22.8,"f":3.16,"s":13},{"t":22.8,"f":3.0,"s":13},{"t":22.8,"f":2.85,"s":13},{"t":22.8,"f":2.77,"s":10},{"t":22.8,"f":2.07,"s":10},
{"t":23.1,"f":4.8,"s":10},{"t":23.1,"f":3.97,"s":10},{"t":23.1,"f":3.71,"s":16},{"t":23.1,"f":3.47,"s":16},{"t":23.1,"f":3.16,"s":16},{"t":23.1,"f":2.93,"s":13},{"t":23.1,"f":2.72,"s":10},{"t":23.1,"f":1.92,"s":10},
{"t":23.3,"f":5.65,"s":10},{"t":23.3,"f":5.26,"s":13},{"t":23.3,"f":5.1,"s":16},{"t":23.3,"f":4.88,"s":16},{"t":23.3,"f":4.64,"s":10},{"t":23.3,"f":4.41,"s":10},{"t":23.3,"f":4.17,"s":10},{"t":23.3,"f":3.9,"s":13},{"t":23.3,"f":3.71,"s":10},{"t":23.3,"f":3.47,"s":10},{"t":23.3,"f":3.16,"s":13},{"t":23.3,"f":2.93,"s":16},{"t":23.3,"f":2.7,"s":10},{"t":23.3,"f":2.43,"s":10},{"t":23.3,"f":2.15,"s":19},{"t":23.3,"f":1.92,"s":10},{"t":23.3,"f":1.69,"s":19},{"t":23.3,"f":1.53,"s":13},
{"t":23.6,"f":5.65,"s":10},{"t":23.6,"f":5.5,"s":10},{"t":23.6,"f":5.26,"s":10},{"t":23.6,"f":4.95,"s":10},{"t":23.6,"f":4.64,"s":13},{"t":23.6,"f":4.49,"s":13},{"t":23.6,"f":4.33,"s":13},{"t":23.6,"f":3.94,"s":13},{"t":23.6,"f":3.71,"s":16},{"t":23.6,"f":3.47,"s":16},{"t":23.6,"f":2.93,"s":16},{"t":23.6,"f":2.77,"s":10},{"t":23.6,"f":2.23,"s":13},{"t":23.6,"f":2.07,"s":10},
{"t":23.85,"f":5.57,"s":10},{"t":23.85,"f":5.15,"s":10},{"t":23.85,"f":4.8,"s":13},{"t":23.85,"f":4.41,"s":16},{"t":23.85,"f":3.94,"s":13},{"t":23.85,"f":3.63,"s":10},{"t":23.85,"f":3.47,"s":16},{"t":23.85,"f":3.16,"s":13},{"t":23.85,"f":2.93,"s":16},{"t":23.85,"f":2.7,"s":10},{"t":23.85,"f":2.15,"s":10},{"t":23.85,"f":2.0,"s":10},
{"t":17.85,"f":3.57,"s":10},{"t":18.15,"f":3.35,"s":10},{"t":18.55,"f":2.45,"s":10},{"t":17.85,"f":1.55,"s":10},{"t":18.85,"f":1.6,"s":10},{"t":19.9,"f":1.75,"s":13},{"t":20.55,"f":2.5,"s":10},{"t":20.55,"f":2.0,"s":10}
]},
"hconcat":[
{"width":603,"height":300,"title":{"text":"2026-08-17","anchor":"middle","offset":6},
"layer":[
{"data":{"name":"obs"},"mark":{"type":"rect","width":4,"height":3.5,"clip":true},
"encoding":{
"x":{"field":"t","type":"quantitative","scale":{"domain":[0,24],"nice":false},
"axis":{"orient":"bottom","values":[0,2,4,6,8,10,12,14,16,18,20,22,24],"title":"UT Time / hrs","labelExpr":"datum.value==24?'00':(datum.value<10?'0':'')+datum.value","grid":true,"gridColor":"#999999","gridDash":[3,3],"gridWidth":1.2,"gridOpacity":1,"domainWidth":1.5,"tickSize":4,"tickWidth":1.5,"labelPadding":6,"titlePadding":6,"labelFlush":false,"labelOverlap":false,"zindex":1}},
"y":{"field":"f","type":"quantitative","scale":{"domain":[1,15],"nice":false},
"axis":{"orient":"left","values":[1,2,3,4,5,6,7,8,9,10,11,12,13,14,15],"format":"d","title":"Frequency / MHz","grid":true,"gridColor":"#999999","gridDash":[3,3],"gridWidth":1.2,"gridOpacity":1,"domainWidth":1.5,"tickSize":4,"tickWidth":1.5,"labelPadding":3,"titlePadding":22,"labelOverlap":false,"zindex":1}},
"color":{"field":"s","type":"quantitative","legend":null,"scale":{"type":"threshold","domain":[9,12,15,18],"range":["#8000ff","#00b4ec","#80ffb4","#ffb360","#ff0000"]}}}},
{"data":{"name":"frame"},"mark":{"type":"rect","width":1,"height":1,"opacity":0},
"encoding":{
"x":{"field":"t","type":"quantitative","scale":{"domain":[0,24],"nice":false},
"axis":{"orient":"top","values":[0,2,4,6,8,10,12,14,16,18,20,22,24],"labels":false,"title":null,"grid":false,"domainWidth":1.5,"tickSize":4,"tickWidth":1.5,"zindex":1}},
"y":{"field":"f","type":"quantitative","scale":{"domain":[1,15],"nice":false},
"axis":{"orient":"right","values":[1,2,3,4,5,6,7,8,9,10,11,12,13,14,15],"labels":false,"title":null,"grid":false,"domainWidth":1.5,"tickSize":4,"tickWidth":1.5,"zindex":1}}}}
],
"resolve":{"axis":{"x":"independent","y":"independent"}}},
{"width":30,"height":302,"data":{"name":"bar"},"view":{"stroke":"black","strokeWidth":1},
"mark":{"type":"rect"},
"encoding":{
"y":{"field":"lo","type":"quantitative","scale":{"domain":[6,21],"nice":false},
"axis":{"orient":"right","values":[6,9,12,15,18,21],"title":"Signal to Noise Ratio SNR / dB","titleAngle":270,"titleX":35,"titleY":150,"titleAlign":"center","titleBaseline":"middle","ticks":false,"domain":false,"grid":false,"labelPadding":13,"labelOffset":-2}},
"y2":{"field":"hi"},
"color":{"field":"lo","type":"quantitative","legend":null,"scale":{"type":"threshold","domain":[9,12,15,18],"range":["#8000ff","#00b4ec","#80ffb4","#ffb360","#ff0000"]}}}}
],
"spacing":12
}
